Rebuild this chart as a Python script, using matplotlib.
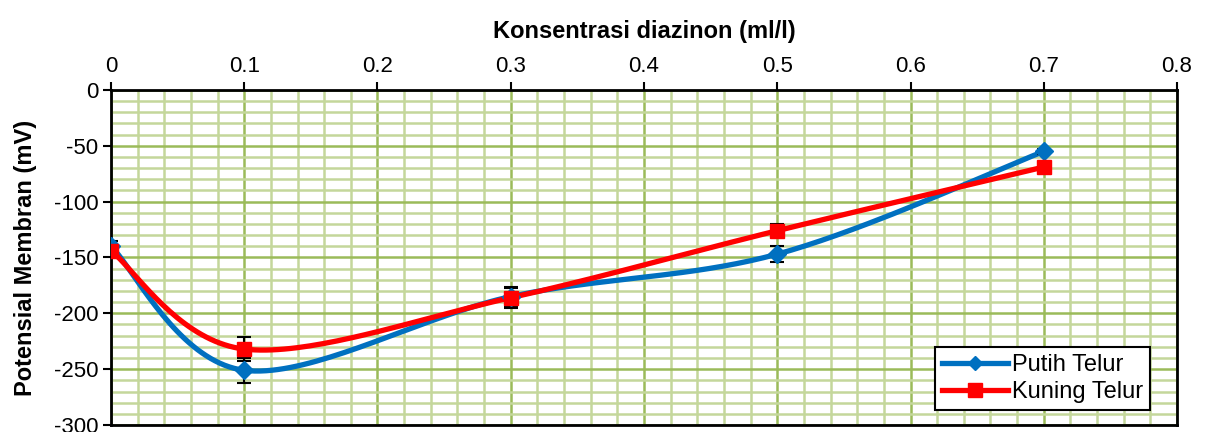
import numpy as np
import matplotlib.pyplot as plt
from matplotlib.ticker import MultipleLocator

plt.rcParams['font.family'] = ['Liberation Sans', 'DejaVu Sans']
plt.rcParams['axes.unicode_minus'] = False

# data
konsentrasi = [0, 0.1, 0.3, 0.5, 0.7]
putih = [-140, -251, -185, -147, -55]
putih_err = [5, 11, 9, 7, 2]
kuning = [-144, -232, -186, -126, -69]
kuning_err = [4, 11, 9, 6, 2]
xticks = [0, 0.1, 0.2, 0.3, 0.4, 0.5, 0.6, 0.7, 0.8]
xtick_labels = ['0', '0.1', '0.2', '0.3', '0.4', '0.5', '0.6', '0.7', '0.8']


def smooth(x, y, n=40):
    # Excel-style smoothed line (Bezier through points, 1/6 tangents)
    x = np.asarray(x, float)
    y = np.asarray(y, float)
    px = np.concatenate([[x[0]], x, [x[-1]]])
    py = np.concatenate([[y[0]], y, [y[-1]]])
    xs, ys = [], []
    t = np.linspace(0, 1, n)
    for i in range(len(x) - 1):
        p0 = np.array([px[i + 1], py[i + 1]])
        p3 = np.array([px[i + 2], py[i + 2]])
        p1 = p0 + (p3 - np.array([px[i], py[i]])) / 6
        p2 = p3 - (np.array([px[i + 3], py[i + 3]]) - p0) / 6
        b = ((1 - t) ** 3)[:, None] * p0 + (3 * (1 - t) ** 2 * t)[:, None] * p1 \
            + (3 * (1 - t) * t ** 2)[:, None] * p2 + (t ** 3)[:, None] * p3
        xs.append(b[:, 0])
        ys.append(b[:, 1])
    return np.concatenate(xs), np.concatenate(ys)


fig = plt.figure(figsize=(12.05, 4.32), dpi=100)
ax = fig.add_axes([0.0921, 0.0162, 0.8847, 0.7755])

ax.set_xlim(0, 0.8)
ax.set_ylim(-300, 0)
ax.set_xticks(xticks)
ax.set_xticklabels(xtick_labels)
ax.xaxis.set_minor_locator(MultipleLocator(0.02))
ax.yaxis.set_major_locator(MultipleLocator(50))
ax.yaxis.set_minor_locator(MultipleLocator(10))
ax.grid(which='minor', color='#C4D79B', linewidth=1.8, zorder=0)
ax.grid(which='major', color='#9BBB59', linewidth=1.8, zorder=0)
ax.set_axisbelow(True)

ax.xaxis.tick_top()
ax.xaxis.set_label_position('top')
ax.tick_params(which='major', direction='out', length=6, width=1.5, labelsize=16, colors='black', pad=3)
ax.tick_params(which='minor', length=0)
for s in ax.spines.values():
    s.set_linewidth(2)
    s.set_color('black')

sx, sy = smooth(konsentrasi, putih)
ax.plot(sx, sy, color='#0070C0', lw=3.8, zorder=3)
kx, ky = smooth(konsentrasi, kuning)
ax.plot(kx, ky, color='#FF0000', lw=3.8, zorder=4)

ax.errorbar(konsentrasi, putih, yerr=putih_err, fmt='none', ecolor='black', elinewidth=1.5, capsize=5, capthick=1.5, zorder=5)
ax.errorbar(konsentrasi, kuning, yerr=kuning_err, fmt='none', ecolor='black', elinewidth=1.5, capsize=5, capthick=1.5, zorder=5)
ax.plot(konsentrasi, putih, ls='none', marker='D', ms=9, color='#0070C0', zorder=6)
ax.plot(konsentrasi, kuning, ls='none', marker='s', ms=10, color='#FF0000', zorder=7)

ax.plot([], [], color='#0070C0', lw=3.8, marker='D', ms=7, label='Putih Telur')
ax.plot([], [], color='#FF0000', lw=3.8, marker='s', ms=10, label='Kuning Telur')
handles, labels = ax.get_legend_handles_labels()
leg = ax.legend(handles, labels, loc='lower right', bbox_to_anchor=(0.9747, 0.045), fontsize=17,
                frameon=True, fancybox=False, framealpha=1, edgecolor='black',
                handlelength=2.8, handletextpad=0.15, borderpad=0.3, labelspacing=0.2, borderaxespad=0)
leg.get_frame().set_linewidth(1.5)

ax.set_xlabel('Konsentrasi diazinon (ml/l)', fontsize=17, fontweight='bold', labelpad=13)
ax.set_ylabel('Potensial Membran (mV)', fontsize=17, fontweight='bold', labelpad=12)

fig.savefig('out.png', dpi=100)
